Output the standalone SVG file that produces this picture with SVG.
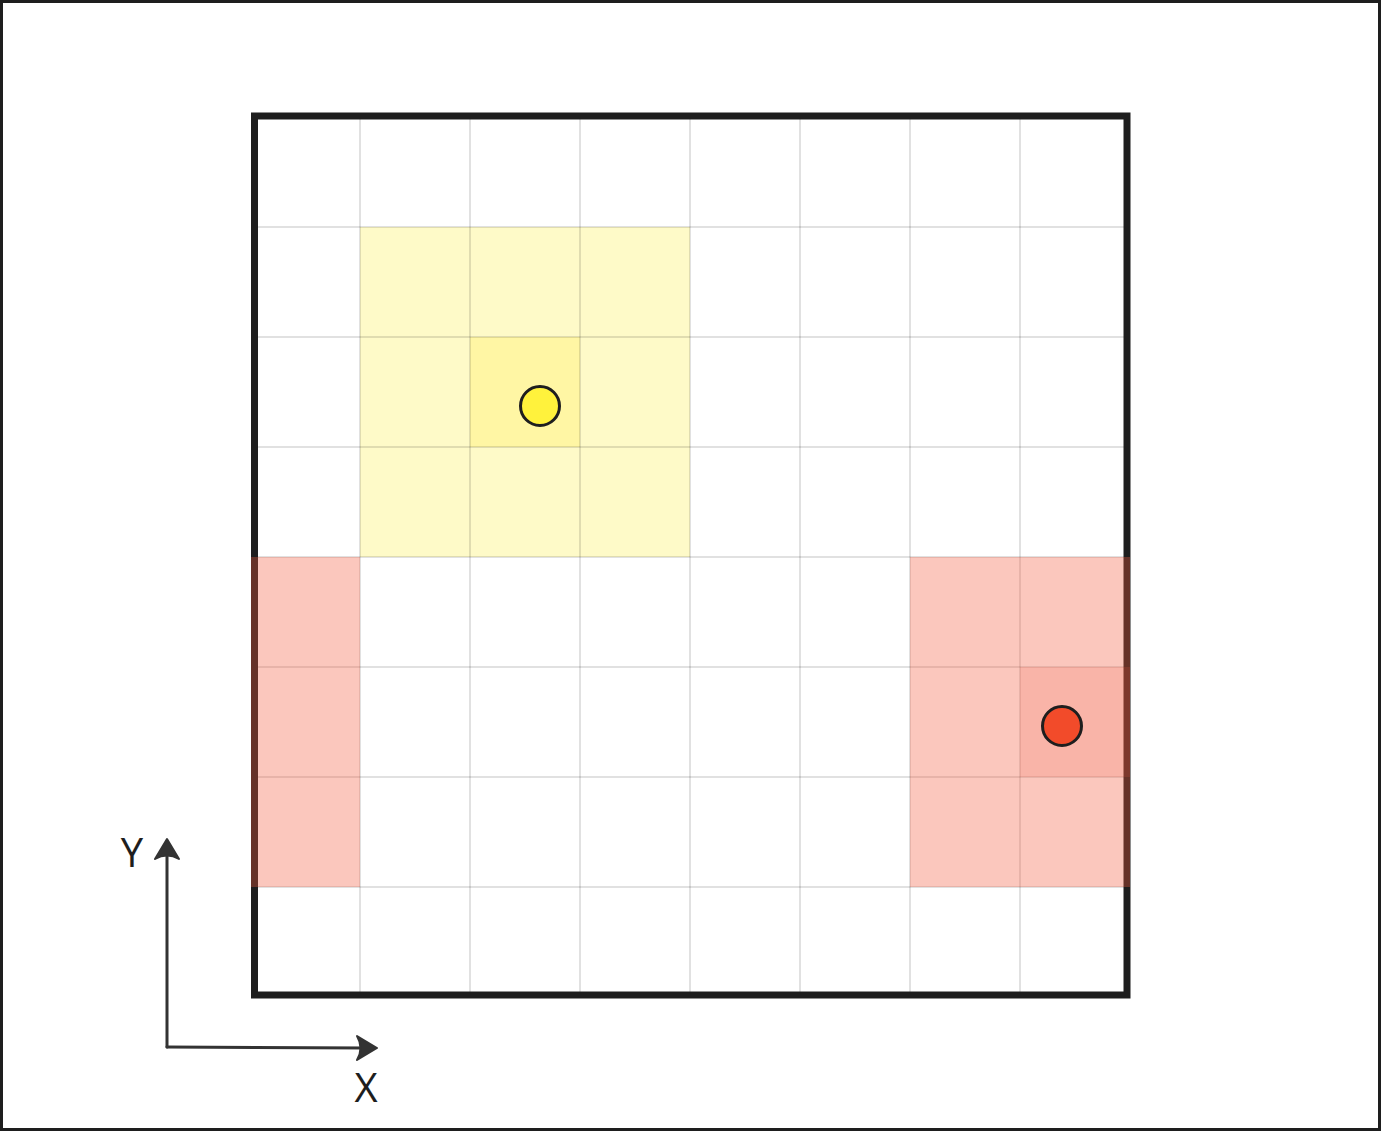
<svg xmlns="http://www.w3.org/2000/svg" width="1381" height="1131" viewBox="0 0 1381 1131">
<style>
.grid{stroke:#000;stroke-opacity:0.24;stroke-width:1;fill:none}
.red{fill:#f35b3f;fill-opacity:0.34}
.red2{fill:#f35b3f;fill-opacity:0.17}
.dot{stroke:#1e1e1e;stroke-width:3}
.axis{stroke:#333;stroke-width:3;fill:none;stroke-linecap:round}
.head{fill:#333;stroke:#333;stroke-width:2;stroke-linejoin:round}
.lbl{font-family:"Open Sans","Liberation Sans",sans-serif;font-weight:400;font-size:40px;fill:#1e1e1e;text-anchor:middle}
</style>
<rect x="0" y="0" width="1381" height="1131" fill="#fff"/>
<rect x="1.5" y="1.5" width="1378" height="1128" fill="none" stroke="#1e1e1e" stroke-width="3"/>
<g id="yellow-region">
<rect x="360" y="227" width="330" height="330" fill="#fefac8"/>
<rect x="470" y="337" width="110" height="110" fill="#fff6a4"/>
</g>
<g id="grid">
<path class="grid" d="M360 116V995M470 116V995M580 116V995M690 116V995M800 116V995M910 116V995M1020 116V995M254 227H1127M254 337H1127M254 447H1127M254 557H1127M254 667H1127M254 777H1127M254 887H1127"/>
</g>
<g id="board">
<rect x="254.5" y="116" width="872.5" height="879" fill="none" stroke="#1e1e1e" stroke-width="7"/>
</g>
<g id="red-region-left">
<rect class="red" x="251" y="557" width="109" height="330"/>
</g>
<g id="red-region-right">
<rect class="red" x="910" y="557" width="220" height="330"/>
<rect class="red2" x="1020" y="667" width="110" height="110"/>
</g>
<g id="yellow-dot">
<circle class="dot" cx="540" cy="406" r="19.5" fill="#fff23c"/>
</g>
<g id="red-dot">
<circle class="dot" cx="1062" cy="726" r="19.5" fill="#f24b2a"/>
</g>
<g id="connectors">
<path class="axis" d="M167 1047L167 850"/>
<path class="head" d="M167 839L179 859Q167 852 155 859Z"/>
<path class="axis" d="M167 1047L366 1048"/>
<path class="head" d="M377 1048L357 1060Q364 1048 357 1036Z"/>
</g>
<g id="labels">
<text class="lbl" x="132" y="867">Y</text>
<text class="lbl" x="366" y="1102">X</text>
</g>
</svg>
